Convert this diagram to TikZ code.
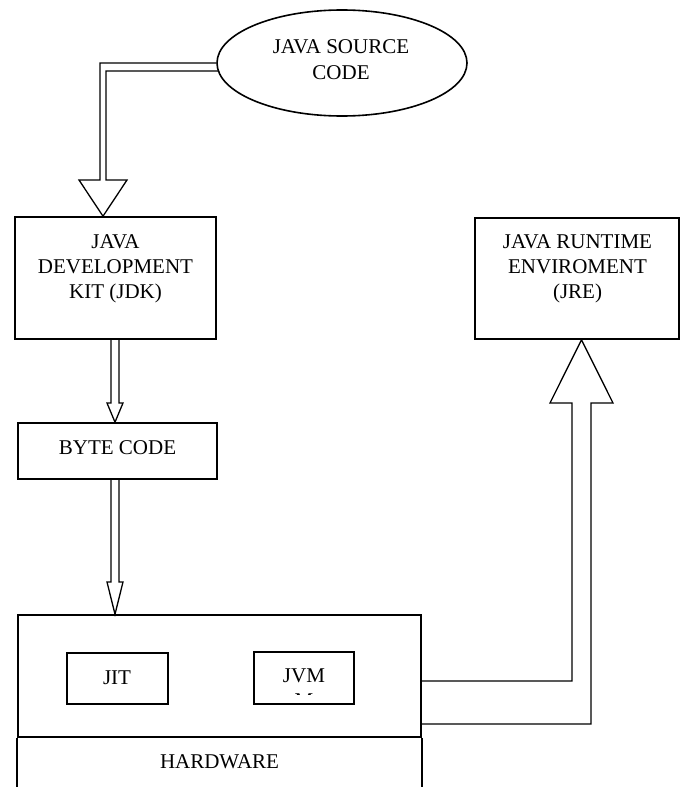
\documentclass[tikz,border=0pt]{standalone}
\usepackage{fontspec}
\setmainfont{Liberation Serif}
\usetikzlibrary{shapes.geometric,calc}
\tikzset{
  box/.style={draw, line width=1.6pt, rectangle, inner sep=0pt},
  oval/.style={draw, line width=1.6pt, ellipse, inner sep=0pt, minimum width=250pt, minimum height=106pt},
  lbl/.style={inner sep=0pt, align=center, font=\fontsize{21}{25}\selectfont},
  conn/.style={draw, line width=1.3pt, line join=miter}
}
\begin{document}
\begin{tikzpicture}[x=1pt,y=-1pt]
\useasboundingbox (0,0) rectangle (685,787);
% nodes
\node[oval] (src) at (342,63) {};
\node[lbl, anchor=north, font=\fontsize{21}{26}\selectfont] (srctext) at (341,39.5) {JAVA SOURCE\\CODE};
\node[box, minimum width=201pt, minimum height=122pt] (jdk) at (115.5,278) {};
\node[lbl, anchor=north] (jdktext) at (115.5,234.2) {JAVA\\DEVELOPMENT\\KIT (JDK)};
\node[box, minimum width=204pt, minimum height=121pt] (jre) at (577,278.5) {};
\node[lbl, anchor=north] (jretext) at (577.5,234.2) {JAVA RUNTIME\\ENVIROMENT\\(JRE)};
\node[box, minimum width=199pt, minimum height=56pt] (byte) at (117.5,451) {};
\node[lbl, anchor=base] (bytetext) at (117.5,454) {BYTE CODE};
\node[box, minimum width=403pt, minimum height=122pt] (hw) at (219.5,676) {};
\node[box, minimum width=101pt, minimum height=51pt] (jit) at (117.5,678.5) {};
\node[lbl, anchor=base] (jittext) at (117,684) {JIT};
\node[box, minimum width=100pt, minimum height=52pt] (jvm) at (304,678) {};
\node[lbl, anchor=base] (jvmtext) at (304,682) {JVM};
\begin{scope}
  \clip (254,652) rectangle (354,694.6);
  \node[lbl, anchor=base] (jvmcut) at (304,707) {M};
\end{scope}
\node[lbl, anchor=base] (hwtext) at (219.5,768) {HARDWARE};
\draw[line width=1.6pt] (hw.south west) -- (hw.south west |- 0,790);
\draw[line width=1.6pt] (hw.south east) -- (hw.south east |- 0,790);
% connectors (hollow double arrows)
\draw[conn] (src.west) -- (100,63) -- (100,180) -- (79,180) -- (jdk.north -| 103,0)
  -- (127,180) -- (106,180) -- (106,71) -- (218.6,71);
\draw[conn] (jdk.south -| 111,0) -- (111,403) -- (107,403) -- (byte.north -| 115,0)
  -- (123,403) -- (119,403) -- (jdk.south -| 119,0);
\draw[conn] (byte.south -| 111,0) -- (111,582) -- (107,582) -- (hw.north -| 115,0)
  -- (123,582) -- (119,582) -- (byte.south -| 119,0);
\draw[conn] (hw.east |- 0,681) -- (572,681) -- (572,403) -- (550,403) -- (jre.south -| 581.5,0)
  -- (613,403) -- (591,403) -- (591,724) -- (hw.east |- 0,724);
\end{tikzpicture}
\end{document}
